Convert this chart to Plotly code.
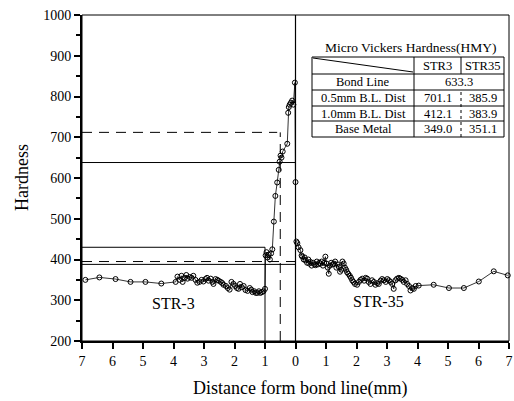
import plotly.graph_objects as go

# ---------------- data ----------------
# STR-3 side (distance from bond line, plotted to the left as negative x)
str3_x = [-6.89, -6.43, -5.90, -5.41, -4.92, -4.40, -3.93,
          -3.87, -3.80, -3.74, -3.70, -3.64, -3.58, -3.54, -3.47, -3.41, -3.35,
          -3.28, -3.22, -3.15, -3.08, -3.02, -2.95, -2.90, -2.85, -2.78, -2.72,
          -2.69, -2.62, -2.56, -2.52, -2.45, -2.40, -2.36, -2.28, -2.22, -2.16,
          -2.10, -2.03, -1.98, -1.92, -1.87, -1.82, -1.76, -1.70, -1.64, -1.57,
          -1.50, -1.45, -1.41, -1.35, -1.30, -1.25, -1.20, -1.15, -1.10, -1.05,
          -1.00, -0.98, -0.95, -0.92, -0.88, -0.84, -0.80, -0.76, -0.71, -0.66,
          -0.60, -0.55, -0.52, -0.49, -0.46, -0.42, -0.27, -0.24, -0.22, -0.19,
          -0.15, -0.11, -0.07, -0.02, 0.0]
str3_y = [350, 356, 352, 345, 345, 341, 345,
          358, 350, 360, 345, 355, 362, 353, 357, 355, 360,
          350, 343, 345, 350, 346, 352, 355, 348, 353, 345,
          340, 352, 350, 348, 345, 342, 338, 335, 330, 326,
          345, 340, 335, 330, 328, 340, 332, 335, 325, 323,
          330, 326, 320, 322, 318, 318, 322, 318, 320, 322,
          328, 410, 418, 405, 412, 400, 415, 425, 493, 556,
          589, 620, 640, 655, 650, 665, 684, 760, 774, 780,
          785, 790, 780, 834, 590]

# STR-35 side
str35_x = [0.03, 0.06, 0.10, 0.16, 0.20, 0.22, 0.27, 0.30, 0.33, 0.38, 0.42,
           0.45, 0.49, 0.53, 0.58, 0.62, 0.66, 0.70, 0.74, 0.78, 0.82, 0.86,
           0.90, 0.94, 0.98, 1.02, 1.06, 1.09, 1.13, 1.17, 1.22, 1.26, 1.30,
           1.34, 1.38, 1.42, 1.46, 1.50, 1.54, 1.58, 1.62, 1.66, 1.69, 1.73,
           1.78, 1.82, 1.86, 1.90, 1.95, 2.02, 2.08, 2.13, 2.19, 2.25, 2.30,
           2.35, 2.40, 2.46, 2.51, 2.57, 2.62, 2.68, 2.73, 2.79, 2.84, 2.90,
           2.96, 3.01, 3.06, 3.12, 3.17, 3.22, 3.28, 3.33, 3.39, 3.44, 3.50,
           3.55, 3.61, 3.66, 3.72, 3.77, 3.83, 3.88, 3.94, 4.04, 4.53, 5.03,
           5.52, 6.01, 6.50, 6.96]
str35_y = [444, 440, 430, 423, 410, 407, 400, 405, 398, 392, 400,
           390, 394, 385, 392, 388, 386, 395, 388, 392, 390, 395,
           385, 392, 407, 390, 380, 365, 385, 392, 388, 390, 395,
           380, 388, 382, 370, 375, 395, 390, 380, 375, 369, 365,
           360, 355, 349, 345, 340, 338, 345, 350, 353, 348, 355,
           353, 345, 340, 349, 345, 338, 342, 340, 348, 352, 349,
           345, 352, 349, 345, 340, 328, 349, 353, 355, 353, 350,
           345, 349, 340, 335, 324, 330, 328, 335, 336, 338, 330,
           330, 346, 371, 361]

# reference lines (hardness level, x where the line stops)
solid_levels = [638, 430, 388]
solid_ends = [0.0, -1.0, 0.0]
dash_levels = [712, 395]
dash_ends = [-0.6, 0.0]

x_tickvals = list(range(-7, 8))
x_ticktext = [str(abs(v)) for v in x_tickvals]

table_title = "Micro Vickers Hardness(HMY)"
table_cols = ["STR3", "STR35"]
table_rows = ["Bond Line", "0.5mm B.L. Dist", "1.0mm B.L. Dist", "Base Metal"]
table_str3 = ["633.3", "701.1", "412.1", "349.0"]
table_str35 = ["", "385.9", "383.9", "351.1"]

# ---------------- figure ----------------
FONT = "Liberation Serif, Times New Roman, serif"
W, H = 514, 401
ML, MR, MT, MB = 82, 5, 15, 60
PW, PH = W - ML - MR, H - MT - MB


def px(xp):
    return (xp - ML) / PW


def py(yp):
    return (H - MB - yp) / PH


fig = go.Figure()
mk = dict(symbol="circle-open", size=5, color="black", line=dict(width=1, color="black"))
fig.add_trace(go.Scatter(x=str3_x, y=str3_y, mode="lines+markers",
                         line=dict(color="black", width=0.8), marker=mk, cliponaxis=False))
fig.add_trace(go.Scatter(x=str35_x, y=str35_y, mode="lines+markers",
                         line=dict(color="black", width=0.8), marker=mk, cliponaxis=False))

shapes = []
for lv, xe in zip(solid_levels, solid_ends):
    shapes.append(dict(type="line", xref="x", yref="y", x0=-7, x1=xe, y0=lv, y1=lv,
                       line=dict(color="black", width=1)))
for lv, xe in zip(dash_levels, dash_ends):
    shapes.append(dict(type="line", xref="x", yref="y", x0=-7, x1=xe, y0=lv, y1=lv,
                       line=dict(color="black", width=1, dash="10px,7px")))
# vertical guides
shapes.append(dict(type="line", xref="x", yref="y", x0=-1, x1=-1, y0=200, y1=solid_levels[1],
                   line=dict(color="black", width=1)))
shapes.append(dict(type="line", xref="x", yref="y", x0=-0.5, x1=-0.5, y0=200, y1=dash_levels[0],
                   line=dict(color="black", width=1, dash="10px,7px")))
shapes.append(dict(type="line", xref="x", yref="y", x0=0, x1=0, y0=200, y1=1000,
                   line=dict(color="black", width=1.2)))
# frame (thin top/right)
shapes.append(dict(type="rect", xref="paper", yref="paper", x0=0, x1=1, y0=0, y1=1,
                   line=dict(color="black", width=1)))

# table geometry (pixels)
tx0, tx1, tx2, tx3 = 312, 414, 461, 504
rows_y = [57, 74, 90, 106, 121, 137]
tl = dict(color="black", width=1)
shapes.append(dict(type="rect", xref="paper", yref="paper", x0=px(tx0), x1=px(tx3),
                   y0=py(rows_y[-1]), y1=py(rows_y[0]), line=tl, fillcolor="white", layer="above"))
for ry in rows_y[1:-1]:
    shapes.append(dict(type="line", xref="paper", yref="paper", x0=px(tx0), x1=px(tx3),
                       y0=py(ry), y1=py(ry), line=tl))
shapes.append(dict(type="line", xref="paper", yref="paper", x0=px(tx1), x1=px(tx1),
                   y0=py(rows_y[-1]), y1=py(rows_y[0]), line=tl))
shapes.append(dict(type="line", xref="paper", yref="paper", x0=px(tx2), x1=px(tx2),
                   y0=py(rows_y[1]), y1=py(rows_y[0]), line=tl))
shapes.append(dict(type="line", xref="paper", yref="paper", x0=px(tx2), x1=px(tx2),
                   y0=py(rows_y[-1]), y1=py(rows_y[2]), line=dict(color="black", width=1, dash="dot")))
shapes.append(dict(type="line", xref="paper", yref="paper", x0=px(tx0 + 1), x1=px(tx1 - 1),
                   y0=py(rows_y[0] + 1), y1=py(rows_y[1] - 2), line=tl))

annotations = []
tf = dict(family=FONT, size=12.5, color="black")


def cell(xc, yc, text, font=tf):
    return dict(xref="paper", yref="paper", x=px(xc), y=py(yc), text=text, showarrow=False,
                font=font, xanchor="center", yanchor="middle")


annotations.append(cell((tx0 + tx3) / 2 + 2, 47, table_title,
                        dict(family=FONT, size=13.5, color="black")))
hdr_c = (rows_y[0] + rows_y[1]) / 2
annotations.append(cell((tx1 + tx2) / 2, hdr_c, table_cols[0]))
annotations.append(cell((tx2 + tx3) / 2, hdr_c, table_cols[1]))
for i, name in enumerate(table_rows):
    cy = (rows_y[i + 1] + rows_y[i + 2]) / 2
    annotations.append(cell((tx0 + tx1) / 2, cy, name))
    if table_str35[i] == "":
        annotations.append(cell((tx1 + tx3) / 2, cy, table_str3[i]))
    else:
        annotations.append(cell((tx1 + tx2) / 2, cy, table_str3[i]))
        annotations.append(cell((tx2 + tx3) / 2, cy, table_str35[i]))

annotations.append(dict(x=-4.0, y=291, xref="x", yref="y", text="STR-3", showarrow=False,
                        xanchor="center", yanchor="middle",
                        font=dict(family=FONT, size=16, color="black")))
annotations.append(dict(x=2.72, y=296, xref="x", yref="y", text="STR-35", showarrow=False,
                        xanchor="center", yanchor="middle",
                        font=dict(family=FONT, size=16, color="black")))
# axis titles
annotations.append(dict(xref="paper", yref="paper", x=px(300), y=py(388), text="Distance form bond line(mm)",
                        showarrow=False, font=dict(family=FONT, size=18, color="black"),
                        xanchor="center", yanchor="middle"))
annotations.append(dict(xref="paper", yref="paper", x=px(22), y=py(178), text="Hardness",
                        showarrow=False, font=dict(family=FONT, size=18, color="black"), textangle=-90,
                        xanchor="center", yanchor="middle"))

fig.update_layout(
    width=W, height=H,
    margin=dict(l=ML, r=MR, t=MT, b=MB, autoexpand=False),
    paper_bgcolor="white", plot_bgcolor="white",
    showlegend=False,
    font=dict(family=FONT, color="black"),
    shapes=shapes,
    annotations=annotations,
    xaxis=dict(range=[-7, 7], tickvals=x_tickvals, ticktext=x_ticktext, automargin=False,
               ticks="outside", ticklen=6, tickwidth=1.5, tickcolor="black",
               showline=True, linewidth=2, linecolor="black", showgrid=False, zeroline=False,
               tickfont=dict(family=FONT, size=14)),
    yaxis=dict(range=[200, 1000], dtick=100, tick0=200, automargin=False,
               ticks="outside", ticklen=6, tickwidth=1.5, tickcolor="black",
               minor=dict(dtick=50, ticks="outside", ticklen=4, tickcolor="black"),
               showline=True, linewidth=2, linecolor="black", showgrid=False, zeroline=False,
               tickfont=dict(family=FONT, size=14)),
)

fig.write_html("out.html", config={"displayModeBar": False},
               post_script="document.body.style.margin='0';document.body.style.padding='0';")
